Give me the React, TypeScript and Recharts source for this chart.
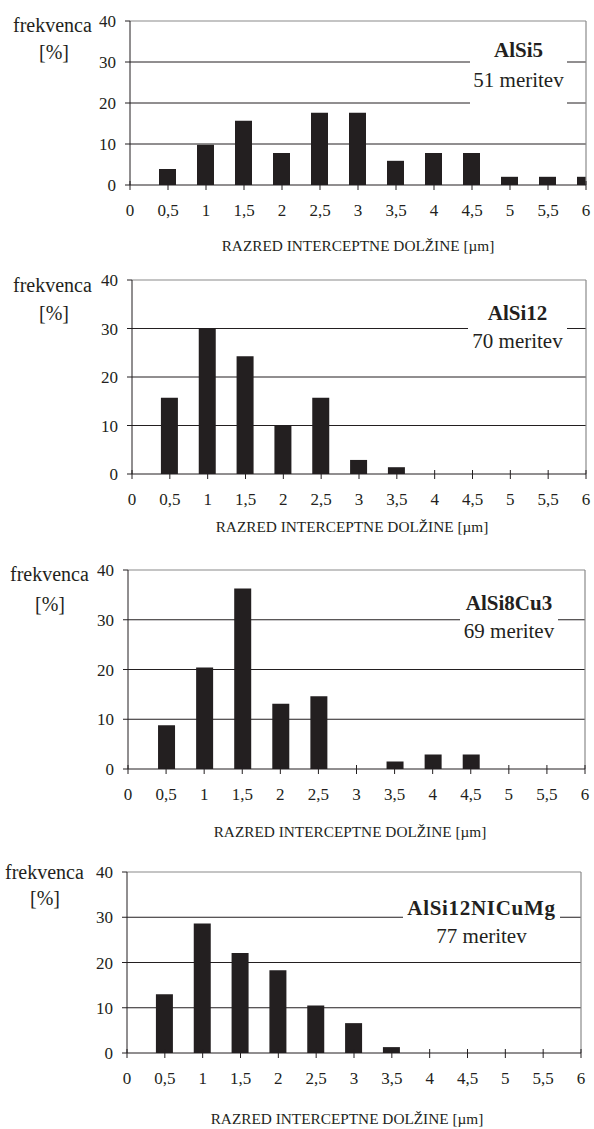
import React from "react";
import { BarChart, Bar, XAxis, YAxis, CartesianGrid, ReferenceLine } from "recharts";

// razredi interceptne dolžine [µm] in frekvence [%]
const razredi = [0.5, 1, 1.5, 2, 2.5, 3, 3.5, 4, 4.5, 5, 5.5, 6];
const xTicks = [0, 0.5, 1, 1.5, 2, 2.5, 3, 3.5, 4, 4.5, 5, 5.5, 6];
const yTicks = [0, 10, 20, 30, 40];

const alsi5 = [3.9, 9.8, 15.7, 7.8, 17.6, 17.6, 5.9, 7.8, 7.8, 2.0, 2.0, 2.0];
const alsi12 = [15.7, 30.0, 24.3, 10.0, 15.7, 2.9, 1.4, 0, 0, 0, 0, 0];
const alsi8cu3 = [8.8, 20.4, 36.3, 13.1, 14.6, 0, 1.5, 2.9, 2.9, 0, 0, 0];
const alsi12ni = [13.0, 28.6, 22.1, 18.3, 10.5, 6.6, 1.3, 0, 0, 0, 0, 0];

const zlitine = ["AlSi5", "AlSi12", "AlSi8Cu3", "AlSi12NICuMg"];
const meritve = ["51 meritev", "70 meritev", "69 meritev", "77 meritev"];
const serije = [alsi5, alsi12, alsi8cu3, alsi12ni];

const FONT = "Liberation Serif, Tinos, Times New Roman, DejaVu Serif, serif";
const INK = "#231f20";
const FRAME = "#8a8a8a";
const TOP_PAD = 10;

// layout of the four panels (page coordinates)
const layout = [
  { l: 130, r: 586, t: 21, b: 185, box: [470, 28, 97, 82], nameY: 57, nY: 87, fx: 13, fy: 32, px: 54, py: 59, tx: 358, ty: 251, ls: 0 },
  { l: 132, r: 586, t: 280, b: 474, box: [468, 292, 99, 64], nameY: 320, nY: 348, fx: 13, fy: 292, px: 54, py: 320, tx: 352, ty: 532, ls: 0 },
  { l: 128, r: 585, t: 570, b: 769, box: [460, 582, 98, 64], nameY: 610, nY: 638, fx: 10, fy: 581, px: 50, py: 611, tx: 350, ty: 837, ls: 0 },
  { l: 127, r: 581, t: 872, b: 1053, box: [403, 886, 157, 64], nameY: 915, nY: 943, fx: 5, fy: 879, px: 45, py: 905, tx: 347, ty: 1124, ls: 0.7 },
];

const fmt = (v: number) => String(v).replace(".", ",");

function makeXTick(axisY: number) {
  return (p: any) => (
    <g>
      <line x1={p.x} x2={p.x} y1={axisY - 4} y2={axisY + 5} stroke={INK} />
      <text x={p.x} y={axisY + 31} textAnchor="middle" style={{ fontSize: 17, fill: INK, fontFamily: FONT }}>
        {fmt(p.payload.value)}
      </text>
    </g>
  );
}

function Panel({ idx }: { idx: number }) {
  const g = layout[idx];
  const data = razredi.map((x, i) => ({ x, v: serije[idx][i] }));
  const plotH = g.b - g.t;
  const W = g.r + 6;
  const H = TOP_PAD + plotH + 40;
  return (
    <div style={{ position: "absolute", left: 0, top: g.t - TOP_PAD, fontFamily: FONT }}>
      <BarChart width={W} height={H} data={data} margin={{ top: TOP_PAD, right: 6, left: 0, bottom: 0 }}>
        <CartesianGrid vertical={false} horizontalValues={[10, 20, 30]} stroke={INK} strokeWidth={1} />
        <ReferenceLine y={40} stroke={FRAME} strokeWidth={1.2} />
        <ReferenceLine x={6} stroke={FRAME} strokeWidth={1.2} />
        <XAxis
          dataKey="x"
          type="number"
          domain={[0, 6]}
          ticks={xTicks}
          interval={0}
          allowDataOverflow
          height={40}
          axisLine={{ stroke: INK }}
          tickLine={false}
          tickSize={5}
          tickMargin={14}
          tick={makeXTick(TOP_PAD + plotH)}
        />
        <YAxis
          type="number"
          domain={[0, 40]}
          ticks={yTicks}
          interval={0}
          width={g.l}
          axisLine={{ stroke: INK }}
          tickLine={{ stroke: INK }}
          tickSize={5}
          tickMargin={9}
          tick={{ fontSize: 17, fill: INK, style: { fontFamily: FONT } }}
        />
        <Bar dataKey="v" fill={INK} barSize={17} isAnimationActive={false} />
      </BarChart>
    </div>
  );
}

export default function App() {
  return (
    <div style={{ position: "absolute", left: 0, top: 0, width: 594, height: 1129, overflow: "hidden", background: "#fff", fontFamily: FONT }}>
      {layout.map((_, i) => (
        <Panel key={i} idx={i} />
      ))}
      <svg width={594} height={1129} style={{ position: "absolute", left: 0, top: 0, pointerEvents: "none", fontFamily: FONT }}>
        {layout.map((g, i) => {
          const [bx, by, bw, bh] = g.box;
          const cx = bx + bw / 2;
          return (
            <g key={i} fill={INK}>
              <rect x={bx} y={by} width={bw} height={bh} fill="#fff" />
              <text x={cx} y={g.nameY} textAnchor="middle" fontSize={21} fontWeight="bold" letterSpacing={g.ls}>
                {zlitine[i]}
              </text>
              <text x={cx} y={g.nY} textAnchor="middle" fontSize={21}>
                {meritve[i]}
              </text>
              <text x={g.fx} y={g.fy} fontSize={20}>frekvenca</text>
              <text x={g.px} y={g.py} textAnchor="middle" fontSize={20}>[%]</text>
              <text x={g.tx} y={g.ty} textAnchor="middle" fontSize={15.3}>
                RAZRED INTERCEPTNE DOLŽINE [µm]
              </text>
            </g>
          );
        })}
      </svg>
    </div>
  );
}
